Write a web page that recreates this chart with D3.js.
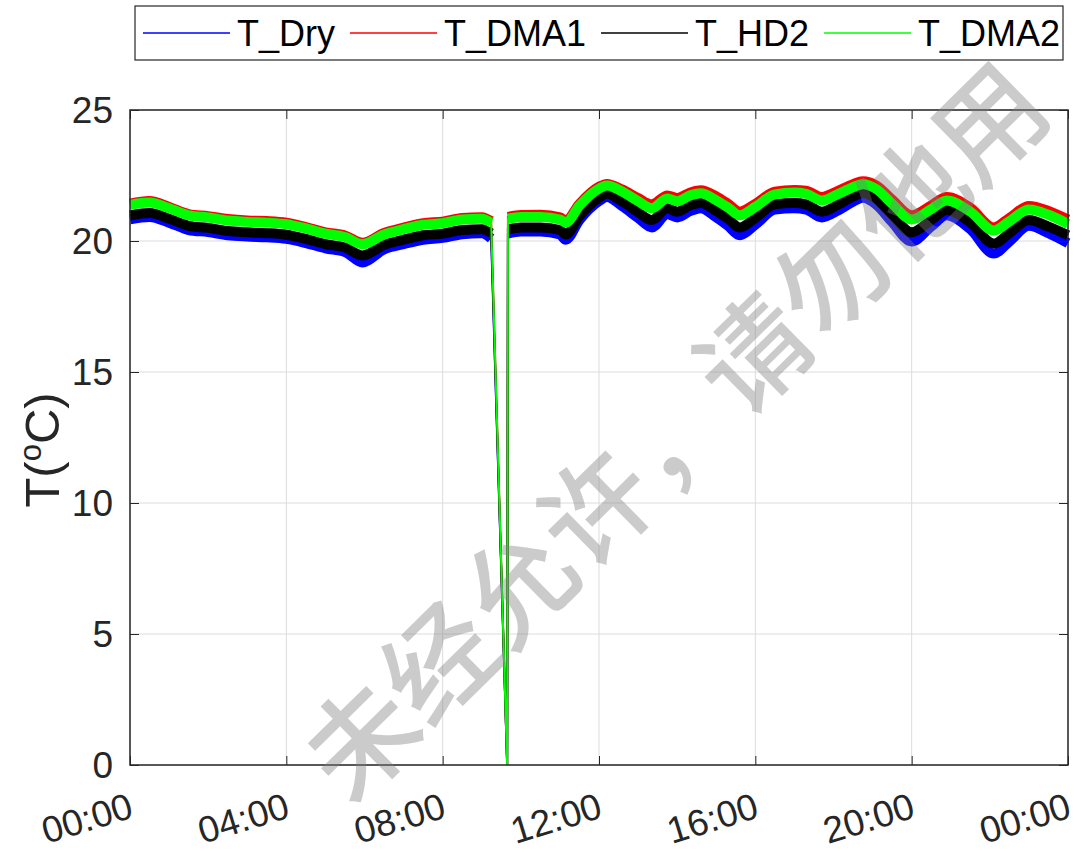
<!DOCTYPE html>
<html><head><meta charset="utf-8">
<script src="https://cdn.jsdelivr.net/npm/d3@7"></script>
<style>
body{margin:0;background:#fff}
text{font-family:"Liberation Sans",Arial,Helvetica,sans-serif;fill:#262626}
</style>
</head><body>
<svg id="chart" width="1087" height="852"></svg>
<script>
// ---- data (hours since midnight) ----
const timeHours = [0,0.5,1,1.5,2,2.5,3,3.5,4,4.5,5,5.5,5.95,6.5,7,7.5,8,8.5,9,9.24,9.65,9.67,10,10.5,11,11.15,11.5,12,12.2,12.6,13,13.35,13.75,14.0,14.35,14.6,15.0,15.3,15.6,16.0,16.5,17.0,17.3,17.7,18.1,18.5,18.75,19.1,19.5,20.0,20.5,20.9,21.5,22.1,22.5,23.0,23.5,24];
const tHD2  = [20.98,21.07,20.85,20.58,20.50,20.38,20.33,20.30,20.24,20.08,19.88,19.75,19.45,19.85,20.05,20.22,20.28,20.42,20.45,20.30,0,20.45,20.52,20.52,20.42,20.25,20.95,21.65,21.80,21.50,21.10,20.80,21.25,21.12,21.37,21.45,21.15,20.85,20.52,20.88,21.40,21.45,21.40,21.12,21.37,21.70,21.83,21.60,21.00,20.33,20.80,21.18,20.70,19.90,20.30,20.80,20.55,20.22];
const tDMA2 = [21.38,21.47,21.25,20.98,20.90,20.78,20.73,20.70,20.64,20.48,20.28,20.15,19.88,20.25,20.45,20.62,20.68,20.82,20.85,20.70,0,20.85,20.92,20.92,20.82,20.70,21.35,22.00,22.12,21.88,21.52,21.25,21.62,21.52,21.75,21.82,21.55,21.28,20.98,21.30,21.78,21.85,21.80,21.55,21.78,22.05,22.17,21.98,21.42,20.82,21.22,21.55,21.12,20.40,20.75,21.20,21.00,20.65];
const tDMA1 = [21.43,21.53,21.30,21.03,20.95,20.84,20.78,20.76,20.70,20.53,20.33,20.21,19.93,20.31,20.51,20.68,20.74,20.88,20.91,20.76,0,20.92,20.99,21.00,20.90,20.78,21.42,22.07,22.18,21.96,21.64,21.40,21.74,21.64,21.86,21.94,21.70,21.42,21.12,21.42,21.88,21.95,21.92,21.68,21.90,22.17,22.28,22.12,21.58,20.98,21.36,21.68,21.27,20.52,20.88,21.34,21.15,20.82];
const tDry  = [20.83,20.92,20.70,20.42,20.34,20.22,20.17,20.14,20.08,19.92,19.72,19.58,19.18,19.68,19.88,20.05,20.12,20.26,20.30,20.10,0,20.28,20.36,20.36,20.25,20.05,20.80,21.52,21.68,21.32,20.88,20.52,21.02,20.90,21.15,21.25,20.90,20.58,20.22,20.62,21.20,21.25,21.20,20.90,21.15,21.50,21.65,21.38,20.72,19.98,20.55,20.98,20.45,19.52,19.98,20.58,20.30,19.92];

const seriesNames  = ["T_Dry","T_DMA1","T_HD2","T_DMA2"];
const seriesValues = [tDry, tDMA1, tHD2, tDMA2];
const seriesColors = ["#0000ff","#ff0000","#000000","#00ff00"];

const xTickHours  = [0,4,8,12,16,20,24];
const xTickLabels = ["00:00","04:00","08:00","12:00","16:00","20:00","00:00"];
const yTicks      = [0,5,10,15,20,25];
const watermark   = "未经允许，请勿他用";

// ---- layout ----
const svg = d3.select("#chart");
const L = 130, R = 1068, T = 110, B = 765;
const x = d3.scaleLinear().domain([0,24]).range([L,R]);
const y = d3.scaleLinear().domain([0,25]).range([B,T]);
const axisColor = "#262626";

// grid
const grid = svg.append("g");
grid.selectAll(".gx").data(xTickHours).join("line")
  .attr("x1",d=>x(d)).attr("x2",d=>x(d)).attr("y1",T).attr("y2",B)
  .attr("stroke","#dcdcdc").attr("stroke-width",1);
grid.selectAll(".gy").data(yTicks).join("line")
  .attr("y1",d=>y(d)).attr("y2",d=>y(d)).attr("x1",L).attr("x2",R)
  .attr("stroke","#dcdcdc").attr("stroke-width",1);

// series
const plot = svg.append("g");
const band = d3.line().defined(d=>d.v>1).x(d=>x(d.t)).y(d=>y(d.v)).curve(d3.curveMonotoneX);
const thin = d3.line().x(d=>x(d.t)).y(d=>y(d.v));
seriesValues.forEach((vals,i)=>{
  const pts = vals.map((v,j)=>({t:timeHours[j], v}));
  plot.append("path").attr("d",band(pts)).attr("fill","none")
    .attr("stroke",seriesColors[i]).attr("stroke-width",10)
    .attr("stroke-linejoin","round").attr("stroke-linecap","butt");
  plot.append("path").attr("d",thin(pts)).attr("fill","none")
    .attr("stroke",seriesColors[i]).attr("stroke-width",2);
});

// axes frame and ticks
const axes = svg.append("g");
axes.append("rect").attr("x",L).attr("y",T).attr("width",R-L).attr("height",B-T)
  .attr("fill","none").attr("stroke",axisColor).attr("stroke-width",1.5);
const tl = 9;
axes.append("g").attr("transform",`translate(${L},0)`)
  .call(d3.axisLeft(y).tickValues(yTicks).tickSize(-tl).tickFormat(""))
  .call(g=>g.select(".domain").remove()).selectAll("line").attr("stroke",axisColor);
axes.append("g").attr("transform",`translate(${R},0)`)
  .call(d3.axisRight(y).tickValues(yTicks).tickSize(-tl).tickFormat(""))
  .call(g=>g.select(".domain").remove()).selectAll("line").attr("stroke",axisColor);
axes.append("g").attr("transform",`translate(0,${B})`)
  .call(d3.axisBottom(x).tickValues(xTickHours).tickSize(-tl).tickFormat(""))
  .call(g=>g.select(".domain").remove()).selectAll("line").attr("stroke",axisColor);
axes.append("g").attr("transform",`translate(0,${T})`)
  .call(d3.axisTop(x).tickValues(xTickHours).tickSize(-tl).tickFormat(""))
  .call(g=>g.select(".domain").remove()).selectAll("line").attr("stroke",axisColor);

// tick labels
svg.append("g").selectAll("text").data(yTicks).join("text")
  .attr("x",L-17).attr("y",d=>y(d)).attr("dy","0.36em")
  .attr("text-anchor","end").attr("font-size",37).text(d=>d);
svg.append("g").selectAll("text").data(xTickHours).join("text")
  .attr("transform",d=>`translate(${x(d)+5},${B+52}) rotate(-17)`)
  .attr("text-anchor","end").attr("font-size",37).text((d,i)=>xTickLabels[i]);

// y label
const yl = svg.append("text").attr("transform","translate(59,450) rotate(-90)")
  .attr("text-anchor","middle").attr("font-size",49);
yl.append("tspan").text("T(");
yl.append("tspan").attr("dy",-18).attr("font-size",31).text("o");
yl.append("tspan").attr("dy",18).text("C)");

// legend
const lg = svg.append("g");
lg.append("rect").attr("x",135).attr("y",6).attr("width",928).attr("height",54)
  .attr("fill","#fff").attr("stroke",axisColor).attr("stroke-width",1.2);
let cx = 143;
seriesNames.forEach((n,i)=>{
  lg.append("line").attr("x1",cx).attr("x2",cx+87).attr("y1",33).attr("y2",33)
    .attr("stroke",seriesColors[i]).attr("stroke-width",1.3);
  const t = lg.append("text").attr("x",cx+94).attr("y",46).attr("font-size",36)
    .style("fill","#000").text(n);
  cx = cx + 94 + t.node().getComputedTextLength() + 15;
});

// watermark
svg.append("text").attr("transform","translate(670,426) rotate(-44.5)")
  .attr("text-anchor","middle").attr("dominant-baseline","central")
  .style("font-family","'Noto Sans CJK SC',sans-serif").style("font-size","110px")
  .style("font-weight",500)
  .style("fill","#808080").style("opacity",0.4).text(watermark);
</script>
</body></html>
